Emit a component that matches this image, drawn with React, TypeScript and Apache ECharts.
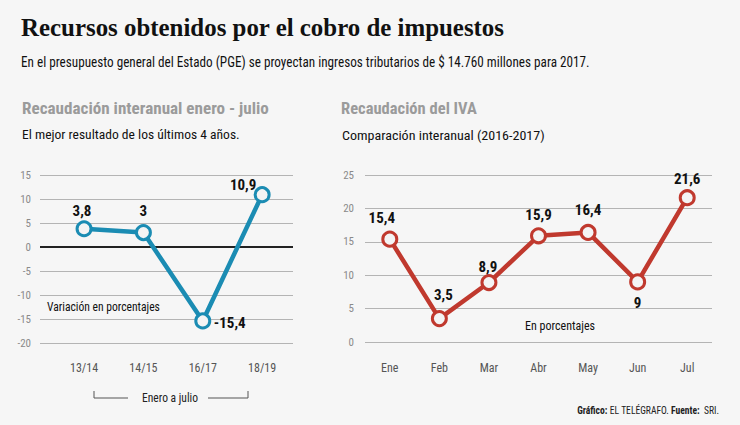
import React, { useEffect, useRef } from "react";
import * as echarts from "echarts";

const leftCategories = ["13/14", "14/15", "16/17", "18/19"];
const leftValues = [3.8, 3, -15.4, 10.9];
const leftLabels = ["3,8", "3", "-15,4", "10,9"];
const leftYTicks = [-20, -15, -10, -5, 0, 5, 10, 15];

const rightCategories = ["Ene", "Feb", "Mar", "Abr", "May", "Jun", "Jul"];
const rightValues = [15.4, 3.5, 8.9, 15.9, 16.4, 9, 21.6];
const rightLabels = ["15,4", "3,5", "8,9", "15,9", "16,4", "9", "21,6"];
const rightYTicks = [0, 5, 10, 15, 20, 25];

const TEAL = "#1b8cb3";
const RED = "#c0392e";
const BG = "#f6f6f6";
const COND = '"Liberation Sans Narrow", "Roboto Condensed", "DejaVu Sans Condensed", Roboto, sans-serif';
const SERIF = '"Liberation Serif", "DejaVu Serif", serif';

function fitScale(text: string, font: string, target: number): number {
  const c = document.createElement("canvas").getContext("2d");
  if (!c) return 1;
  c.font = font;
  const w = c.measureText(text).width;
  return w > 0 ? target / w : 1;
}

function fitText(
  text: string,
  x: number,
  y: number,
  size: number,
  weight: string,
  family: string,
  color: string,
  target: number,
  align: string = "left"
) {
  const s = fitScale(text, `${weight} ${size}px ${family}`, target);
  return {
    type: "text",
    x,
    y,
    scaleX: s,
    style: {
      text,
      fill: color,
      font: `${weight} ${size}px ${family}`,
      align,
      verticalAlign: "middle",
    },
  };
}

const leftOffsets = [
  [-2, -18],
  [0, -22],
  [27, 2],
  [-19, -10],
];
const rightOffsets = [
  [-8, -21],
  [4, -24],
  [-1, -16],
  [0, -21],
  [0, -22],
  [0, 21],
  [0, -19],
];

export default function App() {
  const ref = useRef<HTMLDivElement>(null);
  useEffect(() => {
    document.body.style.margin = "0";
    if (!ref.current) return;
    const chart = echarts.init(ref.current, null, { renderer: "svg" });

    const labelBase = {
      show: true,
      position: "inside",
      color: "#111",
      fontSize: 15,
      fontWeight: "bold",
      fontFamily: COND,
    };

    const leftData = leftValues.map((v, i) => ({
      value: [i, v],
      label: { ...labelBase, formatter: leftLabels[i], offset: leftOffsets[i] },
    }));
    const rightData = rightValues.map((v, i) => ({
      value: v,
      label: { ...labelBase, formatter: rightLabels[i], offset: rightOffsets[i] },
    }));

    const footerFont = 11;
    const footerText = "{b|Gráfico:} EL TELÉGRAFO. {b|Fuente:}  SRI.";
    const footerPlain = "Gráfico: EL TELÉGRAFO. Fuente:  SRI.";
    const footerScale = fitScale(footerPlain, `${footerFont}px ${COND}`, 140);

    const option: any = {
      animation: false,
      backgroundColor: BG,
      grid: [
        { left: 40, width: 253, top: 175, height: 168 },
        { left: 365, width: 347, top: 175, height: 167 },
      ],
      xAxis: [
        {
          type: "value",
          gridIndex: 0,
          min: -0.742,
          max: 3.52,
          splitLine: { show: false },
          axisLine: { show: false },
          axisTick: { show: false },
          axisLabel: {
            customValues: leftCategories.map((_, i) => i),
            formatter: (v: number) => leftCategories[Math.round(v)] ?? "",
            color: "#555",
            fontSize: 12,
            fontFamily: COND,
            margin: 19,
          },
        },
        {
          type: "category",
          gridIndex: 1,
          data: rightCategories,
          boundaryGap: true,
          axisLine: { show: false },
          axisTick: { show: false },
          axisLabel: { color: "#555", fontSize: 12, fontFamily: COND, margin: 20 },
        },
      ],
      yAxis: [
        {
          type: "value",
          gridIndex: 0,
          min: leftYTicks[0],
          max: leftYTicks[leftYTicks.length - 1],
          interval: 5,
          axisLine: { show: false },
          axisTick: { show: false },
          splitLine: { lineStyle: { color: "#b4b4b4", width: 1 } },
          axisLabel: { color: "#8a8a8a", fontSize: 11, fontFamily: COND, margin: 9 },
        },
        {
          type: "value",
          gridIndex: 1,
          min: rightYTicks[0],
          max: rightYTicks[rightYTicks.length - 1],
          interval: 5,
          axisLine: { show: false },
          axisTick: { show: false },
          splitLine: { lineStyle: { color: "#b4b4b4", width: 1 } },
          axisLabel: { color: "#8a8a8a", fontSize: 11, fontFamily: COND, margin: 11 },
        },
      ],
      series: [
        {
          type: "line",
          xAxisIndex: 0,
          yAxisIndex: 0,
          data: leftData,
          symbol: "circle",
          symbolSize: 14,
          lineStyle: { color: TEAL, width: 4.5 },
          itemStyle: { color: "#f4f4f4", borderColor: TEAL, borderWidth: 3 },
          z: 5,
          markLine: {
            silent: true,
            symbol: "none",
            label: { show: false },
            lineStyle: { color: "#222", width: 2, type: "solid" },
            data: [{ yAxis: 0 }],
            z: 1,
          },
        },
        {
          type: "line",
          xAxisIndex: 1,
          yAxisIndex: 1,
          data: rightData,
          symbol: "circle",
          symbolSize: 14,
          lineStyle: { color: RED, width: 4.5 },
          itemStyle: { color: "#f4f4f4", borderColor: RED, borderWidth: 3 },
          z: 5,
        },
      ],
      graphic: [
        fitText("Recursos obtenidos por el cobro de impuestos", 21, 27, 26, "bold", SERIF, "#111", 484),
        fitText(
          "En el presupuesto general del Estado (PGE) se proyectan ingresos tributarios de $ 14.760 millones para 2017.",
          21, 62, 14, "normal", COND, "#111", 569
        ),
        fitText("Recaudación interanual enero - julio", 22, 108, 17, "bold", COND, "#9b9b9b", 247),
        fitText("Recaudación del IVA", 341, 108, 17, "bold", COND, "#9b9b9b", 136),
        fitText("El mejor resultado de los últimos 4 años.", 22, 135, 13, "normal", COND, "#111", 218),
        fitText("Comparación interanual (2016-2017)", 342, 135, 13, "normal", COND, "#111", 203),
        fitText("Variación en porcentajes", 47, 307, 13, "normal", COND, "#111", 113),
        fitText("En porcentajes", 560, 325, 13, "normal", COND, "#111", 70, "center"),
        fitText("Enero a julio", 170, 398, 13, "normal", COND, "#222", 56, "center"),
        {
          type: "polyline",
          shape: { points: [[94, 391], [94, 398], [128, 398]] },
          style: { stroke: "#555", lineWidth: 1, fill: null },
        },
        {
          type: "polyline",
          shape: { points: [[208, 398], [248, 398], [248, 391]] },
          style: { stroke: "#555", lineWidth: 1, fill: null },
        },
        {
          type: "text",
          x: 719,
          y: 410,
          scaleX: footerScale,
          style: {
            text: footerText,
            font: `${footerFont}px ${COND}`,
            fill: "#222",
            align: "right",
            verticalAlign: "middle",
            rich: { b: { fontWeight: "bold", fontSize: footerFont, fontFamily: COND, fill: "#222" } },
          },
        },
      ],
    };
    chart.setOption(option);
    return () => chart.dispose();
  }, []);
  return <div ref={ref} style={{ width: 740, height: 425 }} />;
}
